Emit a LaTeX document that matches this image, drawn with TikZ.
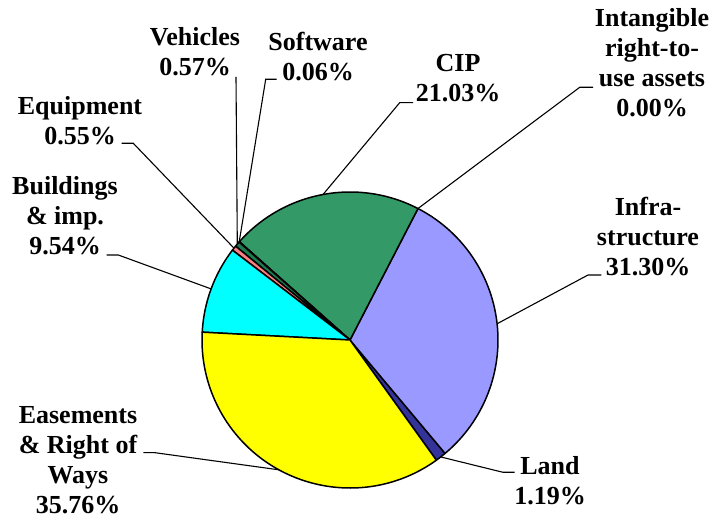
\documentclass[tikz,border=0pt]{standalone}
\usepackage{fontspec}
\setmainfont{Liberation Serif}
\usetikzlibrary{calc}

\definecolor{landblue}{HTML}{333399}
\definecolor{infralav}{HTML}{9999FF}
\definecolor{cipgreen}{HTML}{339966}
\definecolor{vehgreen}{HTML}{1E7A50}
\definecolor{equipsalmon}{HTML}{FF8080}
\definecolor{bldcyan}{RGB}{0,255,255}
\definecolor{easeyellow}{RGB}{255,255,0}
\newcommand{\pieR}{148}
\tikzstyle{slice} = [draw,line width=1.5pt,line join=round]
\tikzstyle{lbl} = [align=center,inner sep=0pt,font=\fontsize{26}{30}\selectfont\bfseries]
\tikzstyle{leader} = [draw,line width=1.1pt]

\begin{document}
\begin{tikzpicture}[x=1pt,y=-1pt]
\useasboundingbox (0,0) rectangle (726,518);
\coordinate (c) at (350,340);
% slices, angles clockwise on the page
\foreach \a/\b/\col in {50.02/54.30/landblue, -62.66/50.02/infralav, -138.37/-62.66/cipgreen,
	-138.58/-138.37/black, -140.64/-138.58/vehgreen, -142.62/-140.64/equipsalmon,
	-176.96/-142.62/bldcyan, 54.30/183.04/easeyellow} {
	\filldraw[slice,fill=\col] (c) -- ++(\a:\pieR) arc[start angle=\a,end angle=\b,radius=\pieR] -- cycle;
}

\node[lbl] (vehicles) at (195,52) {Vehicles\\0.57\%};
\node[lbl] (software) at (318,57) {Software\\0.06\%};
\node[lbl] (equipment) at (80,121) {Equipment\\0.55\%};
\node[lbl] (buildings) at (65,216) {Buildings\\\& imp.\\9.54\%};
\node[lbl] (cip) at (458,78) {CIP\\21.03\%};
\node[lbl] (intangible) at (652,63) {Intangible\\right-to-\\use assets\\0.00\%};
\node[lbl] (infra) at (648,237) {Infra-\\structure\\31.30\%};
\node[lbl] (land) at (550,481) {Land\\1.19\%};
\node[lbl] (easements) at (78,460) {Easements\\\& Right of\\Ways\\35.76\%};

% leader lines
\coordinate (kVehicles) at (236,77);
\coordinate (kSoftware) at (276.7,79.3);
\coordinate (kEquipment) at (121.7,143.3);
\coordinate (kBuildings) at (106.7,255);
\coordinate (kCip) at (413,102.7);
\coordinate (kIntangible) at (593,87.3);
\coordinate (kInfra) at (601.3,275);
\coordinate (kLand) at (514.7,472.3);
\coordinate (kEasements) at (143.3,452.7);
\coordinate (pVehicles) at ($(c)+(-139.6:\pieR)$);
\coordinate (pSoftware) at ($(c)+(-138.47:\pieR)$);
\coordinate (pEquipment) at ($(c)+(-141.63:\pieR)$);
\coordinate (pBuildings) at ($(c)+(-159.8:\pieR)$);
\coordinate (pCip) at ($(c)+(-100.5:\pieR)$);
\coordinate (pIntangible) at ($(c)+(-62.66:\pieR)$);
\coordinate (pInfra) at ($(c)+(-6.3:\pieR)$);
\coordinate (pLand) at ($(c)+(52.2:\pieR)$);
\coordinate (pEasements) at ($(c)+(118.7:\pieR)$);

\draw[leader] (kVehicles) -- (pVehicles);
\draw[leader] (kSoftware) -- ++(-11,0) -- (pSoftware);
\draw[leader] (kEquipment) -- ++(11.6,0) -- (pEquipment);
\draw[leader] (kBuildings) -- ++(11.6,0) -- (pBuildings);
\draw[leader] (kCip) -- ++(-13.3,0) -- (pCip);
\draw[leader] (kIntangible) -- ++(-13.3,0) -- (pIntangible);
\draw[leader] (kInfra) -- ++(-13.3,0) -- (pInfra);
\draw[leader] (kLand) -- ++(-11.7,0) -- (pLand);
\draw[leader] (kEasements) -- ++(11.7,0) -- (pEasements);
\end{tikzpicture}
\end{document}
